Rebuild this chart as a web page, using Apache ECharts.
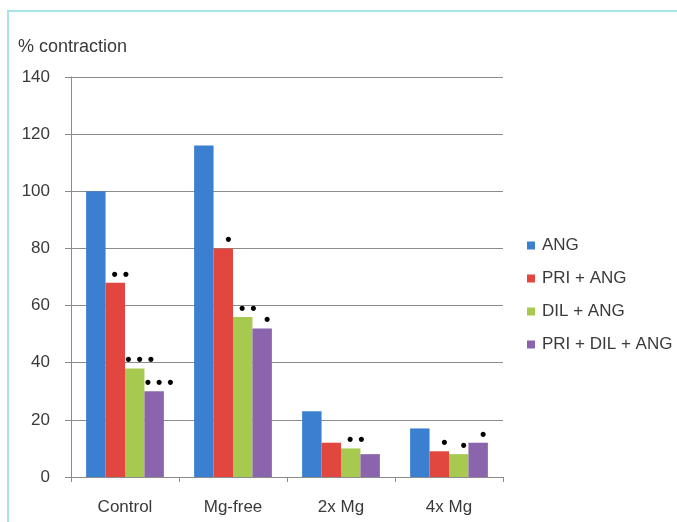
<!DOCTYPE html>
<html>
<head>
<meta charset="utf-8">
<script src="https://cdn.jsdelivr.net/npm/echarts@6/dist/echarts.min.js"></script>
<style>
  html, body { margin: 0; padding: 0; background: #fff; }
  #chart { width: 677px; height: 522px; }
</style>
</head>
<body>
<div id="chart"></div>
<script>
// Conditions along the x axis
const categories = ['Control', 'Mg-free', '2x Mg', '4x Mg'];

// % contraction for each treatment
const seriesNames = ['ANG', 'PRI + ANG', 'DIL + ANG', 'PRI + DIL + ANG'];
const angValues = [100, 116, 23, 17];
const priAngValues = [68, 80, 12, 9];
const dilAngValues = [38, 56, 10, 8];
const priDilAngValues = [30, 52, 8, 12];

// Significance marks drawn above the bars
const angMarks = ['', '', '', ''];
const priAngMarks = ['\u2022 \u2022', '\u2022', '', '\u2022'];
const dilAngMarks = ['\u2022 \u2022 \u2022', '\u2022 \u2022', '\u2022 \u2022', '\u2022'];
const priDilAngMarks = ['\u2022 \u2022 \u2022', '\u2022', '', '\u2022'];

// Y axis ticks
const yMin = 0, yMax = 140, yStep = 20;

const colors = ['#3b7fd1', '#e1473f', '#a7c94f', '#8a64ad'];
const valueSets = [angValues, priAngValues, dilAngValues, priDilAngValues];
const markSets = [angMarks, priAngMarks, dilAngMarks, priDilAngMarks];

const FONT = 'Liberation Sans';
const TXT = '#3a3a3a';

const chart = echarts.init(document.getElementById('chart'), null, { renderer: 'canvas' });

const series = seriesNames.map((name, si) => ({
  name: name,
  type: 'bar',
  barGap: '0%',
  barCategoryGap: '28%',
  itemStyle: { color: colors[si] },
  data: valueSets[si].map((v, ci) => ({
    value: v,
    label: {
      show: markSets[si][ci] !== '',
      formatter: markSets[si][ci]
    }
  })),
  label: {
    position: 'top',
    distance: 0,
    offset: [5, 1],
    color: '#000',
    fontFamily: FONT,
    fontSize: 18,
    fontWeight: 'bold'
  }
}));

chart.setOption({
  animation: false,
  color: colors,
  graphic: [{
    type: 'rect',
    shape: { x: 8, y: 11, width: 700, height: 600 },
    style: { fill: 'none', stroke: '#a9e3ea', lineWidth: 2 },
    silent: true
  }, {
    type: 'text',
    left: 18,
    top: 38,
    style: { text: '% contraction', fontFamily: FONT, fontSize: 18, fill: TXT }
  }],
  grid: { left: 71, right: 174, top: 77, bottom: 45, containLabel: false },
  legend: {
    orient: 'vertical',
    left: 522,
    top: 232,
    itemWidth: 8,
    itemHeight: 8,
    itemGap: 16,
    icon: 'rect',
    textStyle: { fontFamily: FONT, fontSize: 17, color: TXT, padding: [0, 0, 0, 2] },
    data: seriesNames
  },
  xAxis: {
    type: 'category',
    data: categories,
    axisLine: { lineStyle: { color: '#8c8c8c', width: 1 } },
    axisTick: { show: true, inside: false, length: 5, alignWithLabel: false, lineStyle: { color: '#8c8c8c' } },
    axisLabel: { fontFamily: FONT, fontSize: 17, color: TXT, margin: 22 }
  },
  yAxis: {
    type: 'value',
    min: yMin,
    max: yMax,
    interval: yStep,
    axisLine: { show: true, lineStyle: { color: '#8c8c8c', width: 1 } },
    axisTick: { show: true, length: 6, lineStyle: { color: '#8c8c8c' } },
    splitLine: { show: true, lineStyle: { color: '#8c8c8c', width: 1 } },
    axisLabel: { fontFamily: FONT, fontSize: 17, color: TXT, margin: 21 }
  },
  series: series
});
</script>
</body>
</html>
